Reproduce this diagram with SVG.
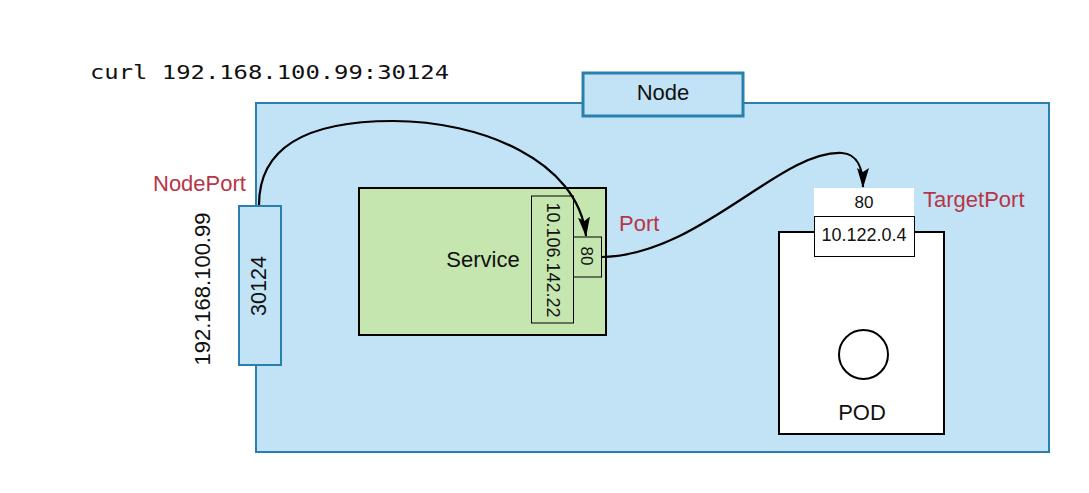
<svg xmlns="http://www.w3.org/2000/svg" width="1089" height="493" viewBox="0 0 1089 493">
<defs>
<style>
.t{font-family:"Liberation Sans",Arial,sans-serif;fill:#111}
.red{font-family:"Liberation Sans",Arial,sans-serif;fill:#b83545;font-size:22px}
.conn{fill:none;stroke:#000;stroke-width:2.2}
</style>
<marker id="arr" viewBox="0 0 20 12" refX="19" refY="6" markerWidth="20" markerHeight="12" markerUnits="userSpaceOnUse" orient="auto">
<path d="M0,0 L20,6 L0,12 L4,6 Z" fill="#000"/>
</marker>
</defs>
<rect width="1089" height="493" fill="#fff"/>
<text x="90" y="78.5" font-family="'DejaVu Sans Mono','Liberation Mono',monospace" font-size="19.5" fill="#111" textLength="359" lengthAdjust="spacingAndGlyphs">curl 192.168.100.99:30124</text>
<g id="node">
<rect x="256" y="103" width="793" height="349" fill="#c1e3f5" stroke="#2a80ad" stroke-width="2"/>
</g>
<g id="node-label">
<rect x="583" y="73" width="160" height="43" fill="#c1e3f5" stroke="#2a80ad" stroke-width="3"/>
<text x="663" y="99.5" class="t" font-size="22" text-anchor="middle">Node</text>
</g>
<g id="nodeport">
<rect x="239" y="206" width="42" height="159" fill="#c1e3f5" stroke="#2a80ad" stroke-width="2"/>
<text class="t" font-size="21.5" text-anchor="middle" transform="translate(266,286) rotate(-90)">30124</text>
<text class="t" font-size="22" text-anchor="middle" transform="translate(210,289) rotate(-90)">192.168.100.99</text>
<text x="153" y="191" class="red">NodePort</text>
</g>
<g id="service">
<rect x="359" y="188" width="247" height="147" fill="#c5e6ae" stroke="#000" stroke-width="2"/>
<text x="483" y="267" class="t" font-size="22" text-anchor="middle">Service</text>
<rect x="531.5" y="196" width="42" height="127" fill="none" stroke="#000" stroke-width="1"/>
<text class="t" font-size="18" text-anchor="middle" transform="translate(547,260) rotate(90)">10.106.142.22</text>
<rect x="573.5" y="237" width="28" height="40" fill="none" stroke="#000" stroke-width="1"/>
<text class="t" font-size="17" text-anchor="middle" transform="translate(581,256) rotate(90)">80</text>
<text x="619" y="231" class="red">Port</text>
</g>
<g id="pod">
<rect x="779" y="232" width="165" height="202" fill="#fff" stroke="#000" stroke-width="2"/>
<circle cx="863.5" cy="354.5" r="24.5" fill="#fff" stroke="#000" stroke-width="2"/>
<text x="862" y="420" class="t" font-size="22" text-anchor="middle">POD</text>
<rect x="814" y="188" width="100" height="28" fill="#fff"/>
<text x="864" y="207.5" class="t" font-size="17" text-anchor="middle">80</text>
<rect x="814.5" y="216.5" width="100" height="40" fill="#fff" stroke="#000" stroke-width="1"/>
<text x="864" y="240.5" class="t" font-size="18" text-anchor="middle">10.122.0.4</text>
<text x="923" y="207" class="red">TargetPort</text>
</g>
<g id="connectors">
<path class="conn" d="M259,205 C259,135 330,121 393,121 C480,121 578,160 586,236" marker-end="url(#arr)"/>
<path class="conn" d="M602,257 C700,255 780,150 842,153 C858,154 863,170 863,187" marker-end="url(#arr)"/>
</g>
</svg>
